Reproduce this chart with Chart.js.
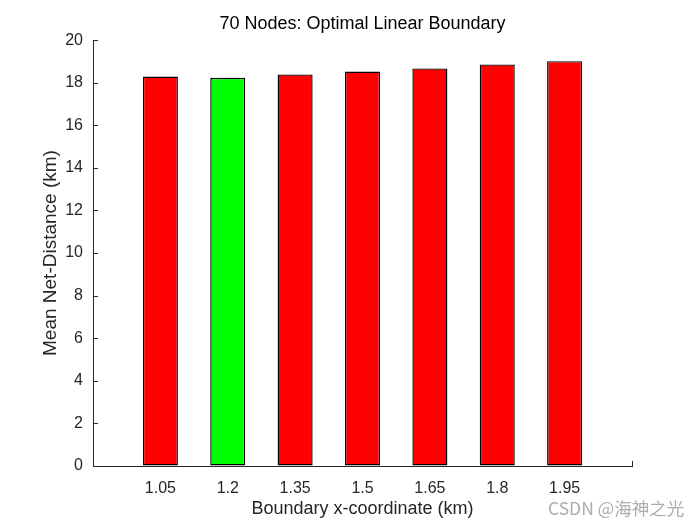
<!DOCTYPE html>
<html>
<head>
<meta charset="utf-8">
<script src="https://cdn.jsdelivr.net/npm/chart.js@4/dist/chart.umd.min.js"></script>
<style>
  html, body { margin: 0; padding: 0; background: #fff; }
  #wrap { position: relative; width: 700px; height: 525px; }
  #mark {
    position: absolute; left: 548px; top: 497px;
    font-family: "Noto Sans CJK SC", "Liberation Sans", sans-serif;
    font-size: 17.5px; line-height: 22px; color: #adadad; white-space: nowrap;
  }
</style>
</head>
<body>
<div id="wrap">
  <canvas id="barChart" width="700" height="525"></canvas>
  <div id="mark">CSDN @海神之光</div>
</div>
<script>
// Valores
const boundaryX = [1.05, 1.2, 1.35, 1.5, 1.65, 1.8, 1.95];
const boundaryLabels = ['1.05', '1.2', '1.35', '1.5', '1.65', '1.8', '1.95'];
const meanDistance = [18.29, 18.23, 18.39, 18.52, 18.67, 18.86, 19.01];
const barColors = ['#ff0000', '#00ff00', '#ff0000', '#ff0000', '#ff0000', '#ff0000', '#ff0000'];
const yTicks = [0, 2, 4, 6, 8, 10, 12, 14, 16, 18, 20];

const axisColor = '#262626';
const fontFamily = '"Liberation Sans", Arial, sans-serif';

// ticks para dentro, estilo MATLAB
const inwardTicks = {
    id: 'inwardTicks',
    afterDraw(chart) {
        const ctx = chart.ctx;
        const { left, right, bottom } = chart.chartArea;
        const y = chart.scales.y;
        ctx.save();
        ctx.strokeStyle = axisColor;
        ctx.lineWidth = 1;
        ctx.beginPath();
        yTicks.forEach(v => {
            const py = Math.round(y.getPixelForValue(v)) + 0.5;
            ctx.moveTo(left, py);
            ctx.lineTo(left + 5, py);
        });
        ctx.moveTo(Math.round(right) + 0.5, bottom);
        ctx.lineTo(Math.round(right) + 0.5, bottom - 5);
        ctx.stroke();
        ctx.restore();
    }
};

const ctx = document.getElementById('barChart').getContext('2d');

new Chart(ctx, {
    type: 'bar',
    data: {
        datasets: [{
            data: boundaryX.map((x, i) => ({ x: x, y: meanDistance[i] })),
            backgroundColor: barColors,
            borderColor: '#000',
            borderWidth: 1.4,
            borderSkipped: false,
            inflateAmount: 0,
            barPercentage: 0.52,
            categoryPercentage: 1
        }]
    },
    options: {
        responsive: false,
        animation: false,
        layout: { padding: { left: 0, right: 68, top: 0, bottom: 0 } },
        plugins: {
            legend: { display: false },
            tooltip: { enabled: false },
            title: {
                display: true,
                text: '70 Nodes: Optimal Linear Boundary',
                fullSize: false,
                color: '#000',
                font: { family: fontFamily, size: 18, weight: 'normal' },
                padding: { top: 13, bottom: 5.5 }
            }
        },
        scales: {
            x: {
                type: 'linear',
                offset: false,
                min: 0.9,
                max: 2.1,
                afterBuildTicks: axis => {
                    axis.ticks = boundaryX.map(v => ({ value: v }));
                },
                afterFit: axis => { axis.height = 59; },
                grid: { display: true, drawOnChartArea: false, drawTicks: false },
                border: { display: true, color: axisColor, width: 1 },
                ticks: {
                    color: axisColor,
                    padding: 13,
                    autoSkip: false,
                    maxRotation: 0,
                    font: { family: fontFamily, size: 16 },
                    callback: (value, index) => boundaryLabels[index]
                },
                title: {
                    display: true,
                    text: 'Boundary x-coordinate (km)',
                    color: axisColor,
                    font: { family: fontFamily, size: 18 },
                    padding: { top: 0, bottom: 5 }
                }
            },
            y: {
                min: 0,
                max: 20,
                afterBuildTicks: axis => {
                    axis.ticks = yTicks.map(v => ({ value: v }));
                },
                afterFit: axis => { axis.width = 93; },
                grid: { display: true, drawOnChartArea: false, drawTicks: false },
                border: { display: true, color: axisColor, width: 1 },
                ticks: {
                    color: axisColor,
                    padding: 10,
                    font: { family: fontFamily, size: 16 }
                },
                title: {
                    display: true,
                    text: 'Mean Net-Distance (km)',
                    color: axisColor,
                    font: { family: fontFamily, size: 19 },
                    padding: { top: 39, bottom: 0 }
                }
            }
        }
    },
    plugins: [inwardTicks]
});
</script>
</body>
</html>
